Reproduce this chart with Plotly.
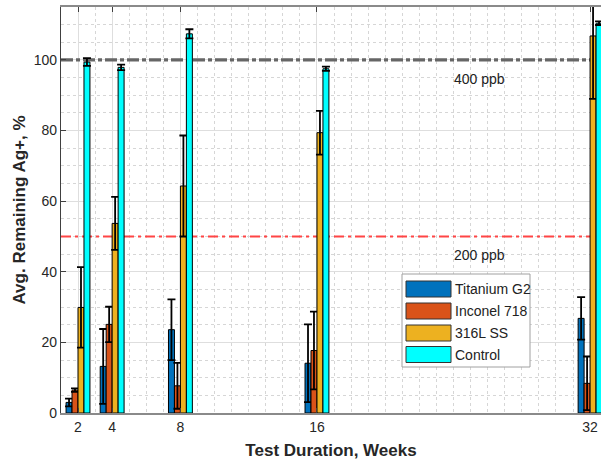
import plotly.graph_objects as go

weeks = [2, 4, 8, 16, 32]
series_names = ["Titanium G2", "Inconel 718", "316L SS", "Control"]
series_colors = ["#0072BD", "#D95319", "#EDB120", "#00FFFF"]

titanium = [3.0, 13.2, 23.6, 14.1, 26.8]
titanium_err = [1.1, 10.6, 8.6, 11.0, 6.0]
inconel = [6.5, 25.1, 7.7, 17.7, 8.4]
inconel_err = [0.5, 5.0, 6.5, 11.0, 7.6]
ss316 = [29.9, 53.7, 64.3, 79.4, 106.8]
ss316_err = [11.4, 7.5, 14.3, 6.2, 17.8]
control = [99.4, 97.9, 107.4, 97.5, 110.4]
control_err = [1.1, 0.8, 1.3, 0.6, 0.5]

values = [titanium, inconel, ss316, control]
errors = [titanium_err, inconel_err, ss316_err, control_err]

x_range = [1.004, 32.64]
y_range = [0, 115]

ref_levels = [100, 50]
ref_labels = ["400 ppb", "200 ppb"]
ref_colors = ["#666666", "#ff4545"]
ref_widths = [3.2, 2]
ref_dash = ["12px,3px,4px,3px", "10px,4px,3px,4px"]
label_week = 25.55
label_y = [94.6, 44.8]

W, H = 601, 460
ML, MR, MT, MB = 61, 0, 7, 47

def px_x(p):
    return (p - ML) / (W - ML - MR)

def px_y(p):
    return (H - MB - p) / (H - MT - MB)

fig = go.Figure()

# reference levels on the base axes (above grid, below the bar overlay)
for lvl, lab, col, wd, ds in zip(ref_levels, ref_labels, ref_colors, ref_widths, ref_dash):
    fig.add_trace(go.Scatter(
        x=x_range, y=[lvl, lvl], mode="lines", name=lab,
        line=dict(color=col, width=wd, dash=ds), hoverinfo="skip",
        showlegend=False, xaxis="x", yaxis="y",
    ))

for name, col, v, e in zip(series_names, series_colors, values, errors):
    fig.add_trace(go.Bar(
        x=weeks, y=v, name=name,
        marker=dict(color=col, line=dict(color="black", width=1)),
        error_y=dict(type="data", array=e, visible=True, color="black",
                     thickness=1.8, width=4),
        showlegend=False, xaxis="x", yaxis="y2",
    ))

shapes = []
annotations = []
for lab, ly in zip(ref_labels, label_y):
    annotations.append(dict(x=label_week, y=ly, xref="x", yref="y", text=lab, showarrow=False,
                            font=dict(size=14, color="#222222", family="Liberation Sans")))

# legend box (drawn manually to mimic wide swatches)
shapes.append(dict(type="rect", xref="paper", yref="paper",
                   x0=px_x(402), x1=px_x(530), y0=px_y(367), y1=px_y(274),
                   line=dict(color="#a0a0a0", width=1), fillcolor="white", layer="above"))
row_centers = [289, 311, 333, 354.5]
for name, col, rc in zip(series_names, series_colors, row_centers):
    shapes.append(dict(type="rect", xref="paper", yref="paper",
                       x0=px_x(406), x1=px_x(451), y0=px_y(rc + 8), y1=px_y(rc - 8),
                       line=dict(color="#333333", width=1), fillcolor=col, layer="above"))
    annotations.append(dict(x=px_x(453), y=px_y(rc), xref="paper", yref="paper", text=name,
                            showarrow=False, xanchor="left", yanchor="middle",
                            font=dict(size=14, color="#222222", family="Liberation Sans")))

fig.update_layout(
    width=W, height=H,
    margin=dict(l=ML, r=MR, t=MT, b=MB),
    paper_bgcolor="white", plot_bgcolor="white",
    barmode="group", bargap=0.3, bargroupgap=0,
    shapes=shapes, annotations=annotations,
    font=dict(family="Liberation Sans", color="#262626"),
    yaxis2=dict(overlaying="y", range=y_range, visible=False, showgrid=False,
                zeroline=False, fixedrange=True),
)
fig.update_xaxes(
    range=x_range, tickmode="array", tickvals=weeks, ticktext=[str(w) for w in weeks],
    ticks="inside", ticklen=5, tickcolor="#404040", tickfont=dict(size=14, color="#262626"),
    showline=True, linecolor="#8a8a8a", linewidth=1.5, mirror="ticks",
    showgrid=True, gridcolor="#dedede", gridwidth=1, zeroline=False,
    minor=dict(tickmode="linear", tick0=0, dtick=1, showgrid=True, gridcolor="#d6d6d6",
               griddash="dot", gridwidth=1, ticks=""),
    title=dict(text="<b>Test Duration, Weeks</b>", font=dict(size=17, color="#262626"), standoff=12),
)
fig.update_layout(yaxis=dict(
    range=y_range, tickmode="linear", tick0=0, dtick=20,
    ticks="inside", ticklen=5, tickcolor="#404040", tickfont=dict(size=14, color="#262626"),
    showline=True, linecolor="#404040", linewidth=1.2, mirror=False,
    showgrid=True, gridcolor="#dedede", gridwidth=1, zeroline=False,
    minor=dict(tickmode="linear", tick0=0, dtick=5, showgrid=True, gridcolor="#d6d6d6",
               griddash="dot", gridwidth=1, ticks=""),
    title=dict(text="<b>Avg. Remaining Ag+, %</b>", font=dict(size=17, color="#262626"), standoff=3),
))

fig.write_html("out.html")
